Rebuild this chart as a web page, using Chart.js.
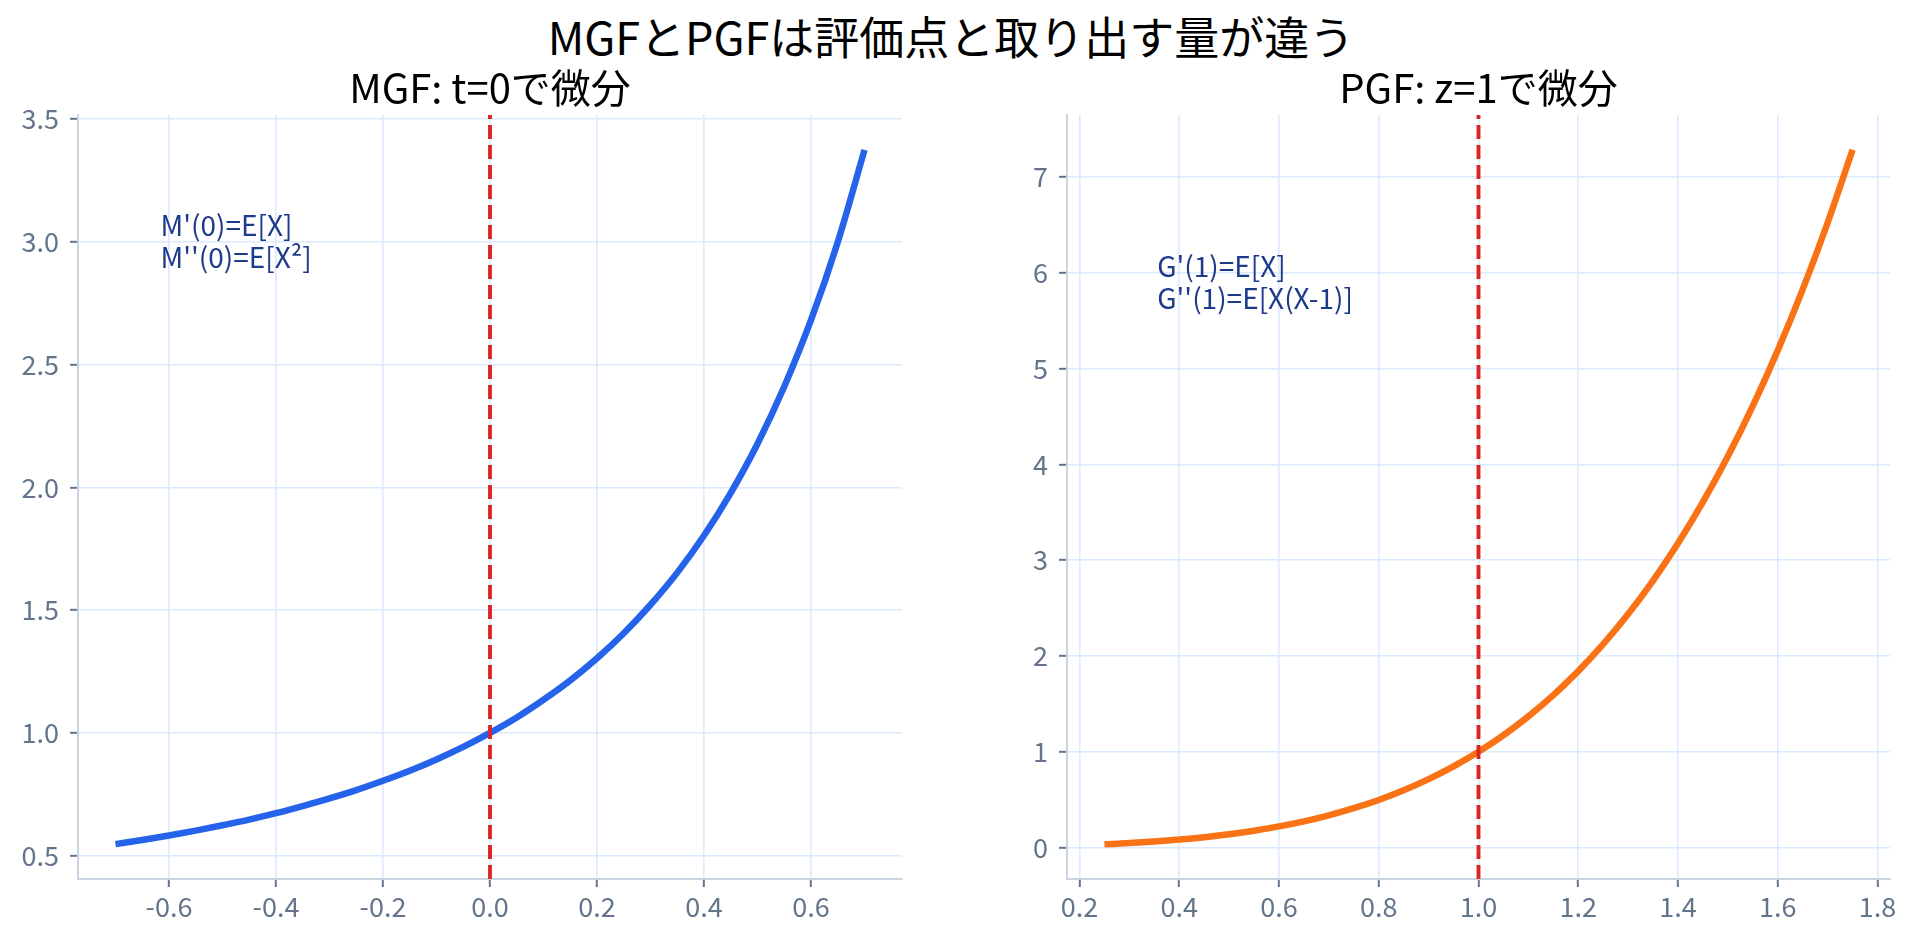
<!DOCTYPE html>
<html>
<head>
<meta charset="utf-8">
<title>MGFとPGF</title>
<script src="https://cdn.jsdelivr.net/npm/chart.js@4.4.0/dist/chart.umd.min.js"></script>
<style>
  body { margin: 0; background: #fff; width: 1917px; height: 940px; overflow: hidden; position: relative; }
  #suptitle {
    position: absolute; left: 0; top: 13px; width: 1902px;
    text-align: center; font-family: "Noto Sans CJK JP", sans-serif;
    font-size: 45px; line-height: 45px; color: #000;
  }
  canvas { position: absolute; top: 0; }
  #mgf { left: 0; }
  #pgf { left: 960px; }
</style>
</head>
<body>
<div id="suptitle">MGFとPGFは評価点と取り出す量が違う</div>
<canvas id="mgf" width="960" height="940"></canvas>
<canvas id="pgf" width="957" height="940"></canvas>
<script>
// MGF curve (t every 0.05)
const tValues = [-0.70, -0.65, -0.60, -0.55, -0.50, -0.45, -0.40, -0.35, -0.30, -0.25, -0.20, -0.15, -0.10, -0.05,
  0.00, 0.05, 0.10, 0.15, 0.20, 0.25, 0.30, 0.35, 0.40, 0.45, 0.50, 0.55, 0.60, 0.65, 0.70];
const mgfValues = [0.547, 0.564, 0.582, 0.602, 0.624, 0.647, 0.673, 0.702, 0.733, 0.767, 0.805, 0.846, 0.892, 0.943,
  1.000, 1.063, 1.135, 1.214, 1.304, 1.406, 1.522, 1.653, 1.804, 1.978, 2.178, 2.411, 2.682, 3.000, 3.375];

// PGF curve (z every 0.05)
const zValues = [0.25, 0.30, 0.35, 0.40, 0.45, 0.50, 0.55, 0.60, 0.65, 0.70, 0.75, 0.80, 0.85, 0.90, 0.95,
  1.00, 1.05, 1.10, 1.15, 1.20, 1.25, 1.30, 1.35, 1.40, 1.45, 1.50, 1.55, 1.60, 1.65, 1.70, 1.75];
const pgfValues = [0.035, 0.048, 0.064, 0.084, 0.109, 0.140, 0.177, 0.222, 0.275, 0.338, 0.412, 0.498, 0.599, 0.715, 0.848,
  1.000, 1.173, 1.370, 1.592, 1.842, 2.123, 2.437, 2.787, 3.176, 3.607, 4.084, 4.610, 5.189, 5.825, 6.521, 7.282];

// evaluation points (red dashed lines)
const mgfPoint = 0;
const pgfPoint = 1;

// axis limits
const mgfXRange = [-0.77, 0.77];
const mgfYRange = [0.405, 3.517];
const pgfXRange = [0.175, 1.825];
const pgfYRange = [-0.327, 7.645];

const mgfNotes = ["M'(0)=E[X]", "M''(0)=E[X²]"];
const pgfNotes = ["G'(1)=E[X]", "G''(1)=E[X(X-1)]"];

const FONT = '"Noto Sans CJK JP", "Noto Sans", sans-serif';
const TICK_COLOR = '#64748b';

// draws the little formula notes at a data position
const notePlugin = {
  id: 'noteText',
  afterDatasetsDraw(chart, args, opts) {
    const { ctx, scales } = chart;
    const px = scales.x.getPixelForValue(opts.x);
    const py = scales.y.getPixelForValue(opts.y);
    ctx.save();
    ctx.font = '28px ' + FONT;
    ctx.fillStyle = '#1e3a8a';
    ctx.textAlign = 'left';
    ctx.textBaseline = 'alphabetic';
    opts.lines.forEach((line, i) => ctx.fillText(line, px, py + i * 32));
    ctx.restore();
  }
};

function axis(range, step, fmt, fitSize, isX) {
  return {
    type: 'linear',
    min: range[0],
    max: range[1],
    grid: { color: '#dbeafe', lineWidth: 1.6, tickColor: TICK_COLOR, tickLength: 8, tickWidth: 2 },
    border: { display: true, color: '#cbd5e1', width: 2 },
    ticks: {
      stepSize: step,
      includeBounds: false,
      font: { family: FONT, size: 27 },
      color: TICK_COLOR,
      padding: isX ? 4 : 11,
      maxRotation: 0,
      callback: fmt
    },
    afterFit(scale) {
      if (isX) scale.height = fitSize; else scale.width = fitSize;
    }
  };
}

function makeChart(id, opts) {
  return new Chart(document.getElementById(id), {
    type: 'line',
    data: {
      datasets: [
        {
          data: [{ x: opts.point, y: opts.yRange[0] }, { x: opts.point, y: opts.yRange[1] }],
          borderColor: '#dc2626',
          borderWidth: 3.9,
          borderDash: [14, 6],
          pointRadius: 0,
          tension: 0,
          order: 0
        },
        {
          data: opts.xs.map((v, i) => ({ x: v, y: opts.ys[i] })),
          borderColor: opts.color,
          borderWidth: 6.5,
          pointRadius: 0,
          cubicInterpolationMode: 'monotone',
          order: 1
        }
      ]
    },
    options: {
      responsive: false,
      animation: false,
      devicePixelRatio: 1,
      layout: { padding: { left: 0, right: opts.padRight, top: 0, bottom: 0 } },
      scales: {
        x: axis(opts.xRange, 0.2, v => v.toFixed(1), 61, true),
        y: axis(opts.yRange, opts.yStep, opts.yFmt, opts.yWidth, false)
      },
      plugins: {
        legend: { display: false },
        tooltip: { enabled: false },
        title: {
          display: true,
          text: opts.title,
          fullSize: false,
          color: '#000',
          font: { family: FONT, size: 40, weight: 'normal' },
          padding: { top: 64, bottom: 3 }
        },
        noteText: { x: opts.noteAt[0], y: opts.noteAt[1], lines: opts.notes }
      }
    },
    plugins: [notePlugin]
  });
}

makeChart('mgf', {
  title: 'MGF: t=0で微分',
  xs: tValues, ys: mgfValues, color: '#2563eb', point: mgfPoint,
  xRange: mgfXRange, yRange: mgfYRange, yStep: 0.5, yFmt: v => v.toFixed(1),
  yWidth: 78, padRight: 58,
  notes: mgfNotes, noteAt: [-0.616, 3.023]
});

makeChart('pgf', {
  title: 'PGF: z=1で微分',
  xs: zValues, ys: pgfValues, color: '#f97316', point: pgfPoint,
  xRange: pgfXRange, yRange: pgfYRange, yStep: 1, yFmt: v => String(Math.round(v)),
  yWidth: 107, padRight: 27,
  notes: pgfNotes, noteAt: [0.356, 5.958]
});
</script>
</body>
</html>
